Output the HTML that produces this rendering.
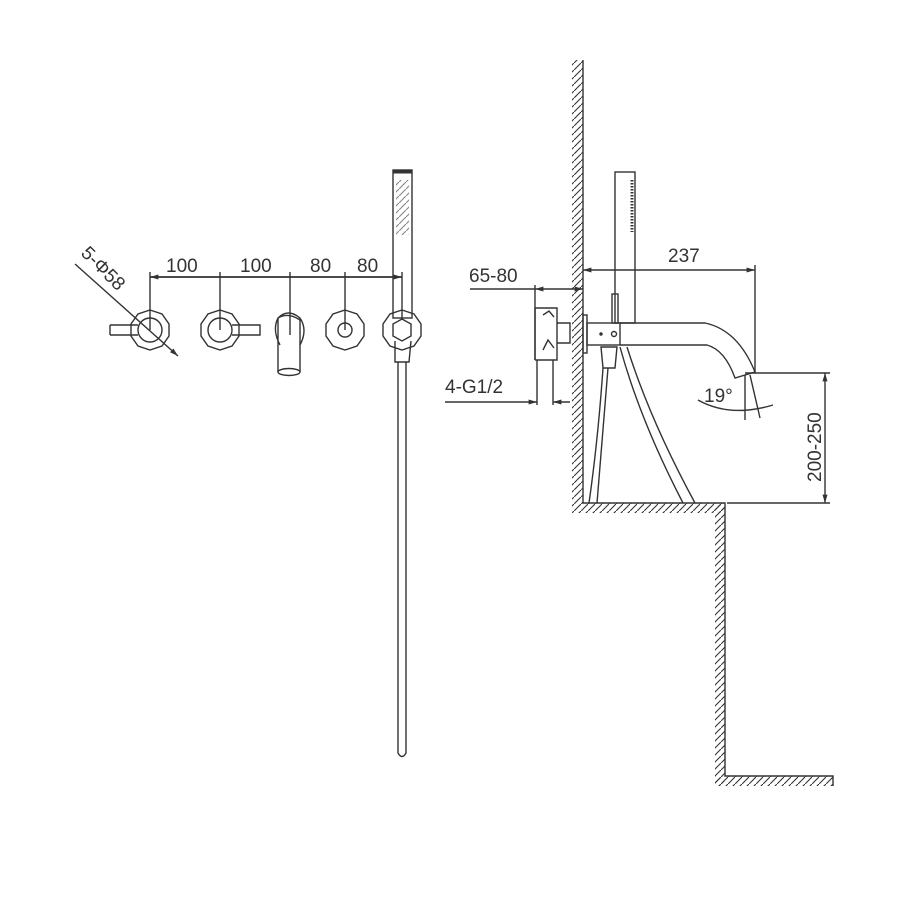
<!DOCTYPE html>
<html><head><meta charset="utf-8"><style>html,body{margin:0;padding:0;background:#fff}svg{display:block}</style></head><body>
<svg width="910" height="912" viewBox="0 0 910 912" xmlns="http://www.w3.org/2000/svg" font-family="Liberation Sans, sans-serif" fill="none" stroke="#333" stroke-width="1.4">
<defs>
<pattern id="h" width="7" height="7" patternUnits="userSpaceOnUse"><path d="M-1,8 L8,-1" stroke="#333" stroke-width="1.1"/></pattern>
<marker id="a" viewBox="0 0 10 10" refX="10" refY="5" markerWidth="8" markerHeight="6" orient="auto-start-reverse"><path d="M0,2 L10,5 L0,8z" fill="#333" stroke="none"/></marker>
</defs>
<rect x="572" y="60" width="11" height="443" fill="url(#h)" stroke="none"/>
<rect x="572" y="503" width="153" height="10" fill="url(#h)" stroke="none"/>
<rect x="715" y="503" width="10" height="283" fill="url(#h)" stroke="none"/>
<rect x="715" y="776" width="118" height="10" fill="url(#h)" stroke="none"/>
<path d="M583,60 V503 H725 V776 H833 V786"/>
<path d="M535,308 V360 M535,308 H557 V360 H535 M557,323 H570 V343 H557 M543,315 l6,-4 l5,6 M543,350 l5,-10 l6,8"/>
<rect x="583" y="315" width="4" height="38"/>
<rect x="587" y="323" width="33" height="22"/>
<circle cx="601" cy="334" r="1" fill="#333"/><circle cx="614" cy="334" r="2.5"/>
<path d="M620,323 H705 Q738,330 755,372 L735,378 Q725,350 707,345 H620"/>
<path d="M601,347 L617,347 L615,368 L603,368 Z"/>
<path d="M603,368 Q598,440 589,503 M608,368 Q602,440 597,503"/>
<path d="M620,347 Q640,420 683,503 M627,347 Q650,420 695,503"/>
<rect x="615" y="172" width="20" height="151"/>
<rect x="612" y="294" width="6" height="29"/>
<path d="M632,180 V232" stroke-width="3" stroke-dasharray="1.5,1.5"/>
<path d="M583,270 H755" marker-start="url(#a)" marker-end="url(#a)"/>
<path d="M755,265 V372"/>
<text x="668" y="262" font-size="19" fill="#333" stroke="none">237</text>
<path d="M470,289 H535" /><path d="M535,289 H583" marker-start="url(#a)" marker-end="url(#a)"/>
<path d="M535,285 V360"/>
<text x="469" y="282" font-size="19" fill="#333" stroke="none">65-80</text>
<path d="M445,402 H537" marker-end="url(#a)"/><path d="M553,402 H570" marker-start="url(#a)"/>
<path d="M537,360 V405 M553,360 V405"/>
<text x="445" y="393" font-size="19" fill="#333" stroke="none">4-G1/2</text>
<path d="M745,373 H830 M727,503 H830"/>
<path d="M825,373 V503" marker-start="url(#a)" marker-end="url(#a)"/>
<text transform="translate(821,482) rotate(-90)" font-size="19" fill="#333" stroke="none">200-250</text>
<text x="704" y="402" font-size="19" fill="#333" stroke="none">19°</text>
<path d="M745,375 V420 M750,375 L760,418 M698,400 Q730,418 773,405"/>
<path d="M150,277 H220 M220,277 H290 M290,277 H345 M345,277 H402" marker-end="url(#a)"/>
<path d="M150,277 H220 M220,277 H290 M290,277 H345 M345,277 H402" marker-start="url(#a)"/>
<path d="M150,272 V330 M220,272 V330 M290,272 V335 M345,272 V330 M402,272 V320"/>
<g font-size="19" fill="#333" stroke="none">
<text x="166" y="272">100</text><text x="240" y="272">100</text><text x="310" y="272">80</text><text x="357" y="272">80</text>
<text transform="translate(80,254) rotate(45)">5-Φ58</text>
</g>
<path d="M75,264 L178,356" marker-end="url(#a)"/>
<g>
<polygon points="150,310 162,314 169,324 169,336 162,346 150,350 138,346 131,336 131,324 138,314"/>
<circle cx="150" cy="330" r="12"/>
<path d="M110,325 H138 M110,335 H138 M110,325 V335"/>
<polygon points="220,310 232,314 239,324 239,336 232,346 220,350 208,346 201,336 201,324 208,314"/>
<circle cx="220" cy="330" r="12"/>
<path d="M232,325 H260 V335 H232"/>
<path d="M280,345 Q272,330 278,318 Q288,308 300,318 Q308,330 300,345 M300,318 L300,372 M278,318 V372"/>
<path d="M278,318 Q288,312 300,320"/>
<ellipse cx="289" cy="372" rx="11" ry="3.5"/>
<polygon points="345,310 357,314 364,324 364,336 357,346 345,350 333,346 326,336 326,324 333,314"/>
<circle cx="345" cy="330" r="7"/>
<polygon points="402,310 414,314 421,324 421,336 414,346 402,350 390,346 383,336 383,324 390,314"/>
<polygon points="402,319 411,324 411,336 402,341 393,336 393,324"/>
<rect x="393" y="170" width="19" height="148"/>
<path d="M393,172 H412" stroke-width="3"/>
<rect x="396" y="180" width="13" height="55" fill="url(#h)" stroke="none" opacity="0.6"/>
<path d="M395,341 L395,362 L409,362 L411,341"/>
<path d="M398,362 V753 Q402,760 406,753 V362"/>
</g>
</svg>
</body></html>
